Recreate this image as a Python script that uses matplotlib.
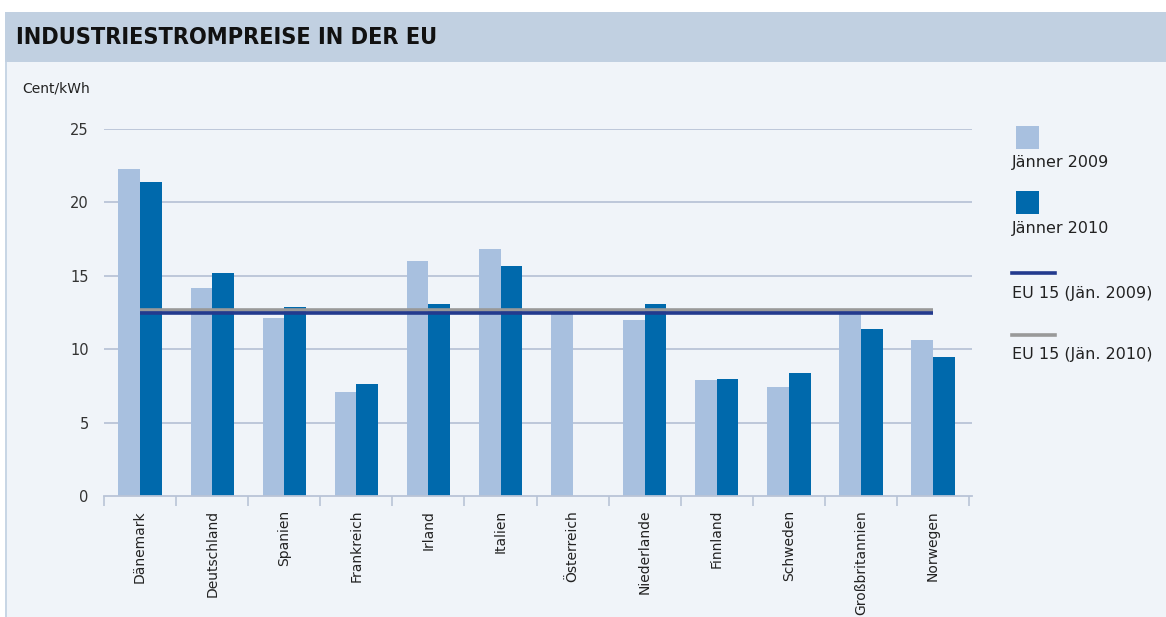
"""Industriestrompreise in der EU - grouped bars with EU15 reference lines."""

import numpy as np
import matplotlib
matplotlib.use("Agg")
import matplotlib.pyplot as plt
from matplotlib.patches import Rectangle
from matplotlib.lines import Line2D

countries = ["Dänemark", "Deutschland", "Spanien", "Frankreich", "Irland", "Italien",
             "Österreich", "Niederlande", "Finnland", "Schweden", "Großbritannien", "Norwegen"]
jan_2009 = [22.3, 14.2, 12.1, 7.1, 16.0, 16.8, 12.6, 12.0, 7.9, 7.4, 12.6, 10.6]
jan_2010 = [21.4, 15.2, 12.9, 7.6, 13.1, 15.7, np.nan, 13.1, 8.0, 8.4, 11.4, 9.5]
eu15_2009 = 12.45
eu15_2010 = 12.68
y_ticks = [0, 5, 10, 15, 20, 25]

C_LIGHT = "#a8c0df"
C_DARK = "#0069ac"
C_NAVY = "#233a8e"
C_GREY = "#999999"
C_GRID = "#b9c4d7"
C_BG = "#f0f4f9"
C_BAND = "#c1d0e1"
FONT = "DejaVu Sans"

W, H = 1166, 617
fig = plt.figure(figsize=(W / 100, H / 100), dpi=100)
fig.patch.set_facecolor("white")


def px(x, y):
    # pixel coords (top-left origin) to figure fraction
    return x / W, 1 - y / H


# panel background + title band
fig.add_artist(Rectangle(px(5, 617), (W - 5) / W, (617 - 12) / H, transform=fig.transFigure,
                         facecolor=C_BG, edgecolor="none", zorder=0))
fig.add_artist(Rectangle(px(5, 62), (W - 5) / W, 50 / H, transform=fig.transFigure,
                         facecolor=C_BAND, edgecolor="none", zorder=0))
fig.add_artist(Line2D([6 / W, 6 / W], [0, 1 - 62 / H], transform=fig.transFigure,
                      color=C_BAND, lw=1.2, zorder=1))
fig.text(*px(16, 38), "INDUSTRIESTROMPREISE IN DER EU", fontsize=16.8, fontweight="bold",
         fontstretch="condensed", family=FONT, color="#111111", va="center", ha="left")
fig.text(*px(22, 89), "Cent/kWh", fontsize=10, family=FONT, color="#222222", va="center")

ax = fig.add_axes([104 / W, 1 - 496 / H, 868 / W, 367 / H])
ax.set_facecolor(C_BG)

x = np.arange(len(countries))
w = 0.3
ax.bar(x - w / 2, jan_2009, w, color=C_LIGHT, zorder=2)
ax.bar(x + w / 2, jan_2010, w, color=C_DARK, zorder=2)
ax.plot([x[0], x[-1]], [eu15_2010, eu15_2010], color=C_GREY, lw=2.6, zorder=3,
        solid_capstyle="butt")
ax.plot([x[0], x[-1]], [eu15_2009, eu15_2009], color=C_NAVY, lw=2.6, zorder=4,
        solid_capstyle="butt")

ax.set_xlim(-0.5, len(countries) - 0.5 + 0.04)
ax.set_ylim(0, 25)
ax.set_yticks(y_ticks)
ax.set_yticklabels([str(v) for v in y_ticks], fontsize=10.5, family=FONT, color="#333333")
ax.tick_params(axis="y", length=0, pad=11)
for v in y_ticks[1:]:
    ax.axhline(v, color=C_GRID, lw=1.3, zorder=1)

ax.set_xticks(x)
ax.set_xticklabels(countries, rotation=90, fontsize=10, family=FONT, color="#222222")
ax.tick_params(axis="x", which="major", length=0, pad=10)
ax.set_xticks(np.arange(len(countries) + 1) - 0.5, minor=True)
ax.tick_params(axis="x", which="minor", length=7, width=1.2, color=C_GRID)

for s in ["top", "right", "left"]:
    ax.spines[s].set_visible(False)
ax.spines["bottom"].set_color(C_GRID)
ax.spines["bottom"].set_linewidth(1.3)

# legend, built by hand to match the stacked layout
def leg_text(y, s):
    fig.text(*px(1012, y), s, fontsize=11.5, family=FONT, color="#222222", va="center")


fig.add_artist(Rectangle(px(1016, 149), 23 / W, 23 / H, transform=fig.transFigure,
                         facecolor=C_LIGHT, edgecolor="none"))
leg_text(163, "Jänner 2009")
fig.add_artist(Rectangle(px(1016, 214), 23 / W, 23 / H, transform=fig.transFigure,
                         facecolor=C_DARK, edgecolor="none"))
leg_text(228, "Jänner 2010")
fig.add_artist(Line2D([1012 / W, 1055 / W], [1 - 273 / H] * 2, transform=fig.transFigure,
                      color=C_NAVY, lw=2.6))
leg_text(293, "EU 15 (Jän. 2009)")
fig.add_artist(Line2D([1012 / W, 1055 / W], [1 - 335 / H] * 2, transform=fig.transFigure,
                      color=C_GREY, lw=2.6))
leg_text(355, "EU 15 (Jän. 2010)")

fig.savefig("out.png", dpi=100, facecolor=fig.get_facecolor())
